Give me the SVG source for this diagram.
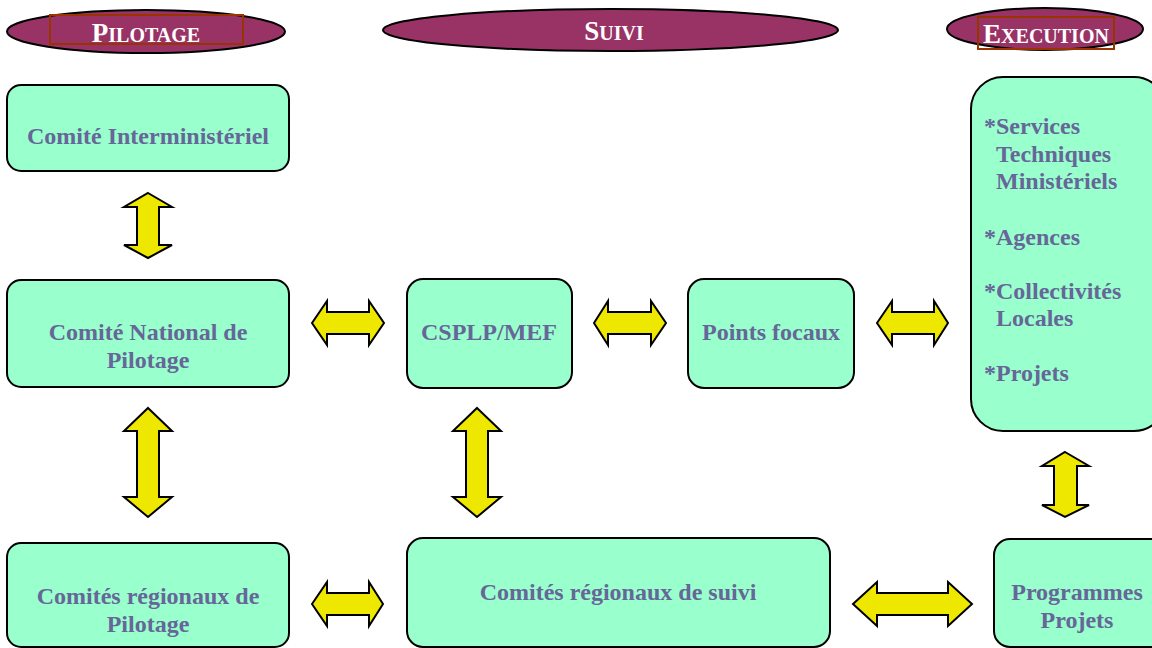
<svg xmlns="http://www.w3.org/2000/svg" width="1152" height="648" viewBox="0 0 1152 648">
<style>
.hdr{fill:#993366;stroke:#000;stroke-width:2}
.hbox{fill:none;stroke:#993300;stroke-width:2}
.ht{font-family:"Liberation Serif",serif;font-weight:bold;fill:#fff;font-size:20px;text-anchor:middle}
.ht .big{font-size:27px}
.node{fill:#99FFCC;stroke:#000;stroke-width:2}
.nt{font-family:"Liberation Serif",serif;font-weight:bold;fill:#666699;font-size:24px;text-anchor:middle}
.lt{font-family:"Liberation Serif",serif;font-weight:bold;fill:#666699;font-size:24px}
.arr{fill:#EEE800;stroke:#000;stroke-width:2;stroke-linejoin:miter}
</style>
<rect width="1152" height="648" fill="#fff"/>
<g id="header-pilotage">
<ellipse class="hdr" cx="146" cy="31.5" rx="139" ry="21.5"/>
<rect class="hbox" x="50" y="15" width="193" height="29"/>
<text class="ht" x="146" y="42"><tspan class="big">P</tspan>ILOTAGE</text>
</g>
<g id="header-suivi">
<ellipse class="hdr" cx="610.5" cy="30" rx="227.5" ry="21"/>
<text class="ht" x="614" y="40"><tspan class="big">S</tspan>UIVI</text>
</g>
<g id="header-execution">
<ellipse class="hdr" cx="1045" cy="29" rx="98" ry="21"/>
<rect class="hbox" x="978" y="17" width="136" height="32"/>
<text class="ht" x="1046" y="43"><tspan class="big">E</tspan>XECUTION</text>
</g>
<g id="comite-interministeriel">
<rect class="node" x="7" y="85" width="282" height="86" rx="14"/>
<text class="nt" x="148" y="144">Comité Interministériel</text>
</g>
<g id="comite-national">
<rect class="node" x="7" y="280" width="282" height="107" rx="14"/>
<text class="nt" x="148" y="340">Comité National de</text>
<text class="nt" x="148" y="368">Pilotage</text>
</g>
<g id="csplp">
<rect class="node" x="407" y="279" width="165" height="109" rx="16"/>
<text class="nt" x="489" y="340">CSPLP/MEF</text>
</g>
<g id="points-focaux">
<rect class="node" x="688" y="279" width="166" height="109" rx="16"/>
<text class="nt" x="771" y="340">Points focaux</text>
</g>
<g id="execution-list">
<rect class="node" x="971" y="77" width="195" height="354" rx="32"/>
<text class="lt" x="984" y="134">*Services</text>
<text class="lt" x="996" y="162">Techniques</text>
<text class="lt" x="996" y="189">Ministériels</text>
<text class="lt" x="984" y="245">*Agences</text>
<text class="lt" x="984" y="299">*Collectivités</text>
<text class="lt" x="996" y="326">Locales</text>
<text class="lt" x="984" y="381">*Projets</text>
</g>
<g id="comites-regionaux-pilotage">
<rect class="node" x="7" y="543" width="282" height="104" rx="14"/>
<text class="nt" x="148" y="604">Comités régionaux de</text>
<text class="nt" x="148" y="632">Pilotage</text>
</g>
<g id="comites-regionaux-suivi">
<rect class="node" x="407" y="538" width="423" height="109" rx="16"/>
<text class="nt" x="618" y="600">Comités régionaux de suivi</text>
</g>
<g id="programmes-projets">
<rect class="node" x="994" y="539" width="172" height="108" rx="16"/>
<text class="nt" x="1077" y="600">Programmes</text>
<text class="nt" x="1077" y="628">Projets</text>
</g>
<g id="connectors">
<path class="arr" d="M148,193 L172,207 L159,207 L159,245 L172,245 L148,258 L124,245 L137,245 L137,207 L124,207 Z"/>
<path class="arr" d="M148,408 L172,431 L159,431 L159,497 L172,497 L148,517 L124,497 L137,497 L137,431 L124,431 Z"/>
<path class="arr" d="M477,408 L501,431 L488,431 L488,497 L501,497 L477,517 L453,497 L466,497 L466,431 L453,431 Z"/>
<path class="arr" d="M1065,452 L1089,466 L1077,466 L1077,505 L1089,505 L1065,517 L1042,505 L1054,505 L1054,466 L1042,466 Z"/>
<path class="arr" d="M312,323 L327,301 L327,312 L369,312 L369,301 L384,323 L369,345 L369,334 L327,334 L327,345 Z"/>
<path class="arr" d="M594,323 L608,301 L608,312 L651,312 L651,301 L666,323 L651,345 L651,334 L608,334 L608,345 Z"/>
<path class="arr" d="M877,323 L892,301 L892,312 L934,312 L934,301 L948,323 L934,345 L934,334 L892,334 L892,345 Z"/>
<path class="arr" d="M312,604 L327,582 L327,593 L369,593 L369,582 L383,604 L369,626 L369,615 L327,615 L327,626 Z"/>
<path class="arr" d="M853,604 L877,582 L877,593 L948,593 L948,582 L972,604 L948,626 L948,615 L877,615 L877,626 Z"/>
</g>
</svg>
